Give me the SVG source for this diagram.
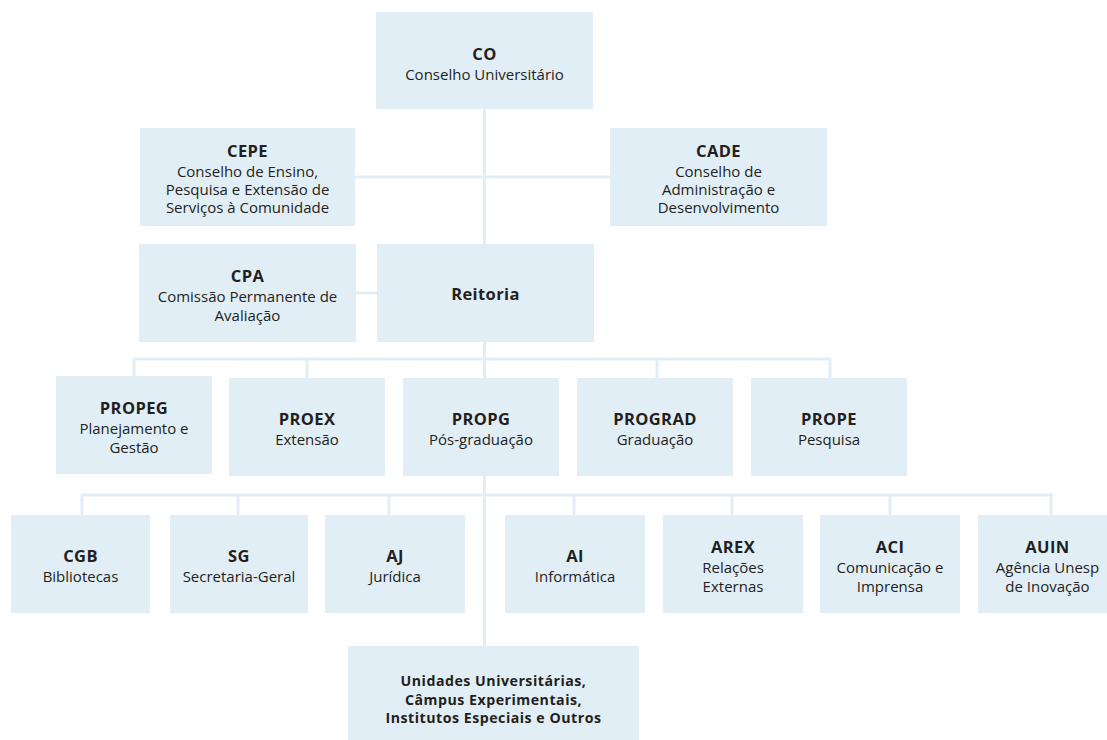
<svg xmlns="http://www.w3.org/2000/svg" width="1107" height="740" viewBox="0 0 1107 740">
<style>
.box{fill:#e2eef6}
.ln{stroke:#e2eef6;stroke-width:3;fill:none}
text{font-family:"Open Sans","Noto Sans","Liberation Sans",sans-serif;fill:#231f20;text-anchor:middle}
.t{font-weight:bold;font-size:16.5px;letter-spacing:0.4px}
.s{font-size:15px}
.u{font-weight:bold;font-size:14.2px;letter-spacing:0.5px}
</style>
<rect width="1107" height="740" fill="#ffffff"/>
<g id="connectors">
<path class="ln" d="M484.5 109V646"/>
<path class="ln" d="M355 177H610"/>
<path class="ln" d="M356 293H377"/>
<path class="ln" d="M134 376V359H830V378M307 359V378M657 359V378"/>
<path class="ln" d="M82 515V495H1051V515M238 495V515M389 495V515M574 495V515M732 495V515M890 495V515"/>
</g>
<g id="CO"><rect class="box" x="376" y="12" width="217" height="97"/><text class="t" x="484.5" y="59.5">CO</text><text class="s" x="484.5" y="79.5">Conselho Universitário</text></g>
<g id="CEPE"><rect class="box" x="140" y="128" width="215" height="98"/><text class="t" x="247.5" y="157">CEPE</text><text class="s" x="247.5" y="176.5">Conselho de Ensino,</text><text class="s" x="247.5" y="195">Pesquisa e Extensão de</text><text class="s" x="247.5" y="213">Serviços à Comunidade</text></g>
<g id="CADE"><rect class="box" x="610" y="128" width="217" height="98"/><text class="t" x="718.5" y="157">CADE</text><text class="s" x="718.5" y="176.5">Conselho de</text><text class="s" x="718.5" y="195">Administração e</text><text class="s" x="718.5" y="213">Desenvolvimento</text></g>
<g id="CPA"><rect class="box" x="139" y="244" width="217" height="98"/><text class="t" x="247.5" y="282">CPA</text><text class="s" x="247.5" y="302">Comissão Permanente de</text><text class="s" x="247.5" y="321">Avaliação</text></g>
<g id="Reitoria"><rect class="box" x="377" y="244" width="217" height="98"/><text class="t" x="485.5" y="299.5" letter-spacing="0.8">Reitoria</text></g>
<g id="PROPEG"><rect class="box" x="56" y="376" width="156" height="98"/><text class="t" x="134" y="413.5">PROPEG</text><text class="s" x="134" y="434">Planejamento e</text><text class="s" x="134" y="453">Gestão</text></g>
<g id="PROEX"><rect class="box" x="229" y="378" width="156" height="98"/><text class="t" x="307" y="425">PROEX</text><text class="s" x="307" y="444.5">Extensão</text></g>
<g id="PROPG"><rect class="box" x="403" y="378" width="156" height="98"/><text class="t" x="481" y="425">PROPG</text><text class="s" x="481" y="444.5">Pós-graduação</text></g>
<g id="PROGRAD"><rect class="box" x="577" y="378" width="156" height="98"/><text class="t" x="655" y="425">PROGRAD</text><text class="s" x="655" y="444.5">Graduação</text></g>
<g id="PROPE"><rect class="box" x="751" y="378" width="156" height="98"/><text class="t" x="829" y="425">PROPE</text><text class="s" x="829" y="444.5">Pesquisa</text></g>
<g id="CGB"><rect class="box" x="11" y="515" width="139" height="98"/><text class="t" x="80.5" y="562">CGB</text><text class="s" x="80.5" y="582">Bibliotecas</text></g>
<g id="SG"><rect class="box" x="170" y="515" width="138" height="98"/><text class="t" x="239" y="562">SG</text><text class="s" x="239" y="582">Secretaria-Geral</text></g>
<g id="AJ"><rect class="box" x="325" y="515" width="140" height="98"/><text class="t" x="395" y="562">AJ</text><text class="s" x="395" y="582">Jurídica</text></g>
<g id="AI"><rect class="box" x="505" y="515" width="140" height="98"/><text class="t" x="575" y="562">AI</text><text class="s" x="575" y="582">Informática</text></g>
<g id="AREX"><rect class="box" x="663" y="515" width="140" height="98"/><text class="t" x="733" y="553">AREX</text><text class="s" x="733" y="573">Relações</text><text class="s" x="733" y="591.5">Externas</text></g>
<g id="ACI"><rect class="box" x="820" y="515" width="140" height="98"/><text class="t" x="890" y="553">ACI</text><text class="s" x="890" y="573">Comunicação e</text><text class="s" x="890" y="591.5">Imprensa</text></g>
<g id="AUIN"><rect class="box" x="978" y="515" width="140" height="98"/><text class="t" x="1047.5" y="553">AUIN</text><text class="s" x="1047.5" y="573">Agência Unesp</text><text class="s" x="1047.5" y="591.5">de Inovação</text></g>
<g id="Unidades"><rect class="box" x="348" y="646" width="291" height="98"/><text class="u" x="493.5" y="686">Unidades Universitárias,</text><text class="u" x="493.5" y="704.5">Câmpus Experimentais,</text><text class="u" x="493.5" y="723">Institutos Especiais e Outros</text></g>
</svg>
